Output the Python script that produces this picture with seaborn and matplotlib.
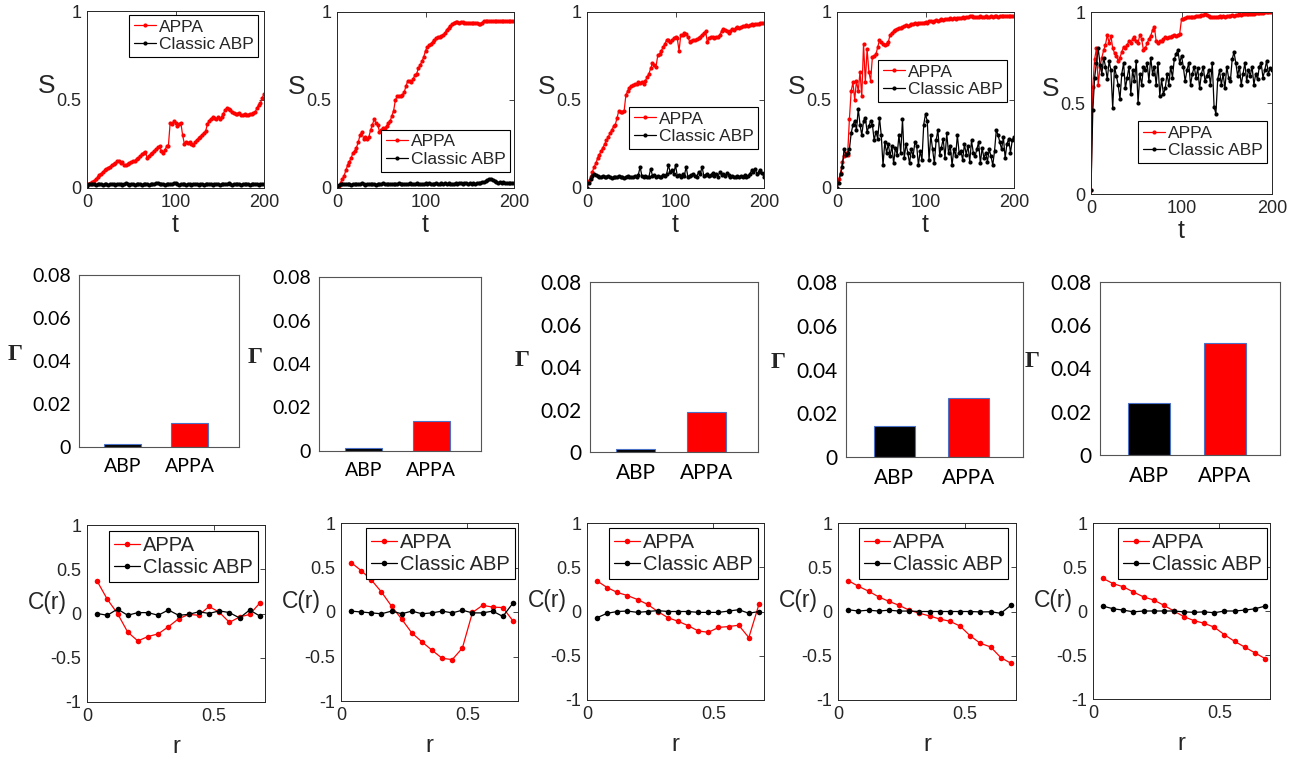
import matplotlib
matplotlib.use("Agg")
import matplotlib.pyplot as plt
import seaborn as sns
import pandas as pd

# ---------------- data ----------------
t = list(range(0, 201, 2))

s1_appa = [0.02,0.025,0.03,0.035,0.04,0.05,0.06,0.075,0.08,0.09,
           0.10,0.105,0.115,0.12,0.13,0.135,0.14,0.15,0.15,0.14,
           0.145,0.13,0.13,0.135,0.14,0.145,0.15,0.155,0.165,0.17,
           0.18,0.19,0.20,0.205,0.17,0.18,0.19,0.20,0.21,0.22,
           0.23,0.235,0.21,0.20,0.215,0.235,0.24,0.37,0.36,0.38,
           0.37,0.35,0.36,0.37,0.30,0.25,0.26,0.255,0.26,0.25,
           0.245,0.26,0.27,0.28,0.29,0.30,0.31,0.32,0.36,0.38,
           0.39,0.40,0.395,0.39,0.40,0.39,0.40,0.42,0.44,0.45,
           0.445,0.44,0.43,0.425,0.42,0.42,0.425,0.415,0.41,0.42,
           0.41,0.415,0.42,0.42,0.425,0.43,0.45,0.47,0.48,0.51,
           0.53]
s1_abp = [0.01,0.02,0.025,0.02,0.022,0.018,0.024,0.02,0.021,0.019,
          0.023,0.02,0.018,0.022,0.025,0.02,0.019,0.023,0.021,0.02,
          0.018,0.022,0.026,0.02,0.019,0.024,0.021,0.018,0.022,0.02,
          0.023,0.019,0.021,0.025,0.02,0.018,0.022,0.021,0.024,0.026,
          0.028,0.024,0.02,0.022,0.019,0.023,0.021,0.025,0.02,0.027,
          0.026,0.022,0.019,0.021,0.024,0.02,0.018,0.022,0.021,0.019,
          0.023,0.02,0.022,0.018,0.021,0.024,0.019,0.022,0.02,0.023,
          0.021,0.019,0.024,0.02,0.022,0.018,0.021,0.025,0.02,0.022,
          0.026,0.021,0.019,0.022,0.02,0.024,0.021,0.019,0.022,0.02,
          0.023,0.021,0.018,0.022,0.024,0.02,0.021,0.019,0.023,0.022,
          0.02]

s2_appa = [0.0,0.01,0.03,0.05,0.07,0.10,0.13,0.15,0.17,0.20,
           0.21,0.23,0.26,0.30,0.32,0.28,0.29,0.28,0.29,0.33,
           0.36,0.39,0.37,0.36,0.32,0.33,0.34,0.34,0.35,0.37,
           0.38,0.41,0.44,0.50,0.52,0.52,0.52,0.53,0.545,0.58,
           0.61,0.61,0.60,0.62,0.64,0.65,0.68,0.70,0.72,0.745,
           0.78,0.80,0.81,0.82,0.83,0.84,0.85,0.86,0.86,0.865,
           0.87,0.88,0.90,0.91,0.92,0.93,0.94,0.945,0.945,0.94,
           0.945,0.945,0.94,0.94,0.94,0.94,0.935,0.94,0.94,0.935,
           0.93,0.93,0.94,0.95,0.95,0.95,0.95,0.95,0.95,0.95,
           0.95,0.95,0.95,0.95,0.95,0.95,0.95,0.95,0.95,0.95,
           0.95]
s2_abp = [0.0,0.015,0.02,0.025,0.022,0.02,0.024,0.021,0.019,0.023,
          0.02,0.022,0.025,0.02,0.028,0.022,0.019,0.024,0.021,0.02,
          0.023,0.021,0.019,0.024,0.02,0.022,0.026,0.02,0.021,0.023,
          0.025,0.022,0.02,0.024,0.021,0.027,0.022,0.02,0.023,0.025,
          0.022,0.026,0.021,0.024,0.02,0.027,0.023,0.025,0.022,0.024,
          0.026,0.022,0.028,0.024,0.021,0.025,0.03,0.024,0.022,0.026,
          0.024,0.028,0.022,0.026,0.024,0.021,0.025,0.027,0.023,0.026,
          0.028,0.024,0.03,0.026,0.023,0.027,0.025,0.029,0.024,0.028,
          0.026,0.03,0.034,0.032,0.038,0.045,0.05,0.052,0.045,0.04,
          0.033,0.03,0.035,0.028,0.032,0.026,0.03,0.027,0.031,0.028,
          0.03]

s3_appa = [0.0,0.04,0.06,0.09,0.12,0.14,0.17,0.19,0.21,0.23,
           0.25,0.27,0.29,0.31,0.33,0.35,0.36,0.40,0.44,0.43,
           0.43,0.44,0.53,0.55,0.57,0.58,0.585,0.59,0.59,0.60,
           0.595,0.60,0.59,0.61,0.63,0.65,0.68,0.71,0.70,0.69,
           0.755,0.76,0.78,0.80,0.82,0.84,0.84,0.83,0.84,0.85,
           0.86,0.85,0.78,0.87,0.87,0.88,0.875,0.86,0.83,0.835,
           0.84,0.84,0.845,0.85,0.86,0.87,0.88,0.89,0.83,0.85,
           0.86,0.86,0.855,0.86,0.86,0.87,0.89,0.905,0.895,0.89,
           0.88,0.89,0.905,0.90,0.91,0.915,0.91,0.915,0.92,0.92,
           0.925,0.92,0.925,0.93,0.925,0.93,0.93,0.93,0.935,0.935,
           0.935]
s3_abp = [0.0,0.03,0.05,0.07,0.08,0.075,0.07,0.06,0.065,0.07,
          0.06,0.065,0.07,0.06,0.055,0.06,0.065,0.06,0.07,0.065,
          0.06,0.055,0.065,0.07,0.06,0.065,0.06,0.07,0.065,0.075,
          0.12,0.07,0.065,0.07,0.06,0.065,0.11,0.07,0.075,0.065,
          0.07,0.06,0.065,0.075,0.07,0.08,0.13,0.09,0.10,0.08,
          0.13,0.07,0.075,0.065,0.08,0.07,0.12,0.065,0.07,0.075,
          0.08,0.07,0.065,0.09,0.08,0.12,0.07,0.075,0.08,0.07,
          0.075,0.085,0.07,0.08,0.065,0.09,0.075,0.08,0.07,0.085,
          0.075,0.065,0.07,0.06,0.065,0.07,0.06,0.07,0.065,0.075,
          0.06,0.07,0.08,0.10,0.09,0.11,0.08,0.09,0.10,0.085,
          0.06]

s4_appa = [0.0,0.05,0.085,0.15,0.18,0.20,0.19,0.39,0.55,0.60,
           0.50,0.61,0.55,0.66,0.52,0.82,0.60,0.79,0.66,0.61,
           0.745,0.75,0.76,0.80,0.84,0.83,0.82,0.81,0.82,0.83,
           0.87,0.88,0.89,0.90,0.905,0.91,0.91,0.915,0.92,0.925,
           0.92,0.925,0.93,0.93,0.935,0.93,0.94,0.935,0.94,0.94,
           0.945,0.94,0.95,0.95,0.945,0.95,0.955,0.95,0.955,0.96,
           0.955,0.96,0.96,0.96,0.965,0.96,0.965,0.96,0.965,0.965,
           0.965,0.97,0.965,0.97,0.97,0.975,0.98,0.97,0.97,0.97,
           0.97,0.975,0.97,0.97,0.975,0.97,0.97,0.975,0.97,0.975,
           0.975,0.97,0.975,0.975,0.975,0.975,0.975,0.975,0.975,0.975,
           0.975]
s4_abp = [0.0,0.03,0.08,0.12,0.22,0.19,0.20,0.22,0.31,0.36,
          0.38,0.33,0.45,0.36,0.30,0.38,0.40,0.32,0.35,0.38,
          0.36,0.27,0.32,0.28,0.40,0.30,0.13,0.26,0.20,0.25,
          0.18,0.24,0.14,0.23,0.19,0.30,0.20,0.39,0.17,0.25,
          0.20,0.14,0.22,0.18,0.26,0.24,0.13,0.21,0.16,0.36,
          0.42,0.38,0.16,0.30,0.22,0.14,0.27,0.33,0.19,0.23,
          0.28,0.17,0.31,0.20,0.24,0.13,0.22,0.18,0.30,0.20,
          0.21,0.16,0.25,0.19,0.24,0.15,0.27,0.20,0.18,0.22,
          0.26,0.14,0.23,0.17,0.20,0.15,0.22,0.18,0.13,0.21,
          0.33,0.30,0.26,0.22,0.29,0.17,0.25,0.28,0.20,0.27,
          0.29]

s5_appa = [0.02,0.59,0.74,0.80,0.60,0.70,0.75,0.79,0.82,0.875,
           0.83,0.87,0.80,0.775,0.76,0.73,0.75,0.78,0.81,0.80,
           0.82,0.84,0.83,0.85,0.86,0.84,0.83,0.875,0.85,0.79,
           0.80,0.83,0.85,0.87,0.90,0.92,0.84,0.83,0.84,0.84,
           0.85,0.86,0.855,0.86,0.865,0.87,0.875,0.87,0.875,0.88,
           0.96,0.96,0.965,0.97,0.97,0.975,0.97,0.975,0.98,0.98,
           0.98,0.985,0.985,0.99,0.985,0.98,0.975,0.97,0.975,0.975,
           0.975,0.98,0.975,0.98,0.975,0.98,0.98,0.98,0.985,0.98,
           0.985,0.985,0.99,0.985,0.99,0.99,0.99,0.99,0.99,0.99,
           0.99,0.995,0.995,0.995,0.995,0.995,1.0,1.0,1.0,1.0,
           1.0]
s5_abp = [0.02,0.46,0.64,0.72,0.80,0.71,0.66,0.75,0.70,0.63,
          0.73,0.68,0.47,0.70,0.65,0.60,0.52,0.66,0.72,0.58,
          0.64,0.70,0.55,0.68,0.62,0.73,0.50,0.66,0.60,0.70,
          0.68,0.72,0.62,0.75,0.66,0.70,0.60,0.72,0.54,0.63,
          0.55,0.58,0.66,0.60,0.70,0.64,0.74,0.77,0.79,0.72,
          0.76,0.70,0.62,0.68,0.72,0.60,0.66,0.70,0.64,0.69,
          0.58,0.66,0.70,0.62,0.65,0.68,0.60,0.72,0.48,0.44,
          0.63,0.68,0.60,0.66,0.58,0.70,0.64,0.62,0.74,0.78,
          0.72,0.65,0.70,0.60,0.66,0.72,0.62,0.68,0.65,0.70,
          0.60,0.66,0.63,0.70,0.72,0.64,0.68,0.73,0.66,0.69,
          0.68]

gamma_cats = ["ABP", "APPA"]
gamma1 = [0.0015, 0.011]
gamma2 = [0.0012, 0.014]
gamma3 = [0.0015, 0.019]
gamma4 = [0.014, 0.027]
gamma5 = [0.024, 0.052]

r = [0.04,0.08,0.12,0.16,0.20,0.24,0.28,0.32,0.36,0.40,0.44,0.48,0.52,0.56,0.60,0.64,0.68]
c1_appa = [0.365,0.16,0.0,-0.21,-0.31,-0.26,-0.23,-0.15,-0.06,-0.01,-0.02,0.08,0.015,-0.10,-0.04,-0.01,0.12]
c1_abp = [0.0,-0.02,0.05,-0.02,0.01,0.01,-0.02,0.04,-0.02,-0.01,0.02,0.0,0.03,0.01,-0.05,0.04,-0.03]
c2_appa = [0.555,0.465,0.36,0.225,0.065,-0.08,-0.235,-0.335,-0.43,-0.52,-0.535,-0.405,-0.005,0.075,0.055,0.05,-0.10]
c2_abp = [0.01,0.0,-0.01,-0.02,0.01,-0.02,0.01,-0.02,-0.01,0.01,-0.01,0.02,-0.01,-0.01,0.01,-0.05,0.10]
c3_appa = [0.345,0.27,0.215,0.18,0.135,0.08,0.0,-0.07,-0.11,-0.16,-0.22,-0.235,-0.18,-0.17,-0.155,-0.295,0.08]
c3_abp = [-0.07,-0.02,0.0,0.005,-0.01,0.0,0.01,0.0,0.0,0.0,-0.01,-0.01,-0.01,0.005,0.02,-0.02,0.0]
c4_appa = [0.35,0.285,0.23,0.165,0.115,0.07,0.015,-0.02,-0.05,-0.085,-0.11,-0.165,-0.275,-0.36,-0.40,-0.52,-0.585]
c4_abp = [0.02,0.005,0.015,0.005,0.015,0.005,0.005,0.0,0.0,0.0,0.0,0.0,0.0,-0.005,-0.003,-0.02,0.07]
c5_appa = [0.37,0.31,0.275,0.215,0.16,0.125,0.065,0.0,-0.065,-0.11,-0.14,-0.185,-0.27,-0.345,-0.41,-0.475,-0.54]
c5_abp = [0.055,0.025,0.01,-0.01,0.0,0.0,0.0,0.0,-0.01,-0.015,-0.01,-0.02,0.0,0.0,0.01,0.025,0.055]

top_series = [(s1_appa, s1_abp), (s2_appa, s2_abp), (s3_appa, s3_abp), (s4_appa, s4_abp), (s5_appa, s5_abp)]
gammas = [gamma1, gamma2, gamma3, gamma4, gamma5]
bot_series = [(c1_appa, c1_abp), (c2_appa, c2_abp), (c3_appa, c3_abp), (c4_appa, c4_abp), (c5_appa, c5_abp)]

# ---------------- layout (pixel boxes: left, top, right, bottom) ----------------
W, H = 1296, 757
top_boxes = [(87, 11, 264, 188), (337, 12, 514, 188), (587, 12, 764, 188), (837, 12, 1014, 188), (1091, 12, 1272, 194)]
mid_boxes = [(79, 275, 239, 447), (319, 277, 481, 451), (590, 282, 758, 452), (846, 282, 1023, 457), (1100, 282, 1280, 455)]
mid_tick_fs = [14, 14, 15, 15, 15]
mid_gamma_dx = [-64, -64, -68, -68, -68]
bot_boxes = [(87, 525, 265, 702), (341, 523, 518, 701), (587, 523, 764, 700), (838, 523, 1016, 700), (1093, 523, 1270, 699)]
top_leg = [(0.966, 0.977), (0.977, 0.33), (0.966, 0.46), (0.96, 0.727), (0.972, 0.40)]
bot_leg = [(0.96, 0.966), (0.983, 0.97), (0.966, 0.97), (0.955, 0.97), (0.983, 0.97)]

sns.set_style("white")
plt.rcParams["font.family"] = ["Liberation Sans", "DejaVu Sans"]

RED = "#ff0000"
DARK = "#262626"

fig = plt.figure(figsize=(W / 100, H / 100), dpi=100)


def add_ax(box):
    l, tp, rt, b = box
    return fig.add_axes([l / W, 1 - b / H, (rt - l) / W, (b - tp) / H])


def matlab_style(ax):
    for sp in ax.spines.values():
        sp.set_visible(True)
        sp.set_color(DARK)
        sp.set_linewidth(0.7)
    ax.tick_params(direction="in", length=3.5, width=0.6, colors=DARK,
                   labelsize=13, top=True, right=True, labelcolor=DARK, pad=4)


def style_legend(ax, anchor, fs):
    leg = ax.legend(loc="upper right", bbox_to_anchor=anchor, fontsize=fs,
                    frameon=True, fancybox=False, framealpha=1,
                    edgecolor="black", handlelength=1.3, handletextpad=0.15,
                    borderpad=0.25, labelspacing=0.15, borderaxespad=0)
    leg.get_frame().set_linewidth(0.8)


# Top row: S(t)
for i, box in enumerate(top_boxes):
    ax = add_ax(box)
    appa, abp = top_series[i]
    df = pd.DataFrame({"t": t, "APPA": appa, "Classic ABP": abp})
    sns.lineplot(data=df, x="t", y="APPA", ax=ax, color=RED, marker="o", markersize=3,
                 markeredgewidth=0, linewidth=0.9, label="APPA")
    sns.lineplot(data=df, x="t", y="Classic ABP", ax=ax, color="black", marker="o", markersize=3,
                 markeredgewidth=0, linewidth=0.9, label="Classic ABP")
    ax.set_xlim(0, 200)
    ax.set_ylim(0, 1)
    ax.set_xticks([0, 100, 200])
    ax.set_yticks([0, 0.5, 1])
    ax.set_yticklabels(["0", "0.5", "1"])
    matlab_style(ax)
    ax.set_xlabel("t", fontsize=18, color=DARK, labelpad=2)
    ax.set_ylabel("S", fontsize=19, color=DARK, rotation=0, ha="center", va="center")
    ax.yaxis.set_label_coords(-40 / (box[2] - box[0]), 0.575)
    style_legend(ax, top_leg[i], 12.5)

# Middle row: Gamma bars
for i, box in enumerate(mid_boxes):
    ax = add_ax(box)
    df = pd.DataFrame({"model": gamma_cats, "gamma": gammas[i]})
    sns.barplot(data=df, x="model", y="gamma", hue="model", palette=["black", RED],
                saturation=1, legend=False, width=0.55, edgecolor="#4a72c8",
                linewidth=0.8, ax=ax)
    ax.set_xlim(-0.65, 1.73)
    ax.set_ylim(0, 0.08)
    ax.set_yticks([0, 0.02, 0.04, 0.06, 0.08])
    ax.set_yticklabels(["0", "0.02", "0.04", "0.06", "0.08"])
    for sp in ax.spines.values():
        sp.set_visible(True)
        sp.set_color("#555555")
        sp.set_linewidth(0.8)
    ax.tick_params(axis="y", direction="in", length=6, width=0.7, colors="#555555",
                   labelcolor="black", labelsize=mid_tick_fs[i], pad=6)
    ax.tick_params(axis="x", length=0, labelsize=mid_tick_fs[i], labelcolor="black", pad=8)
    for lab in ax.get_xticklabels() + ax.get_yticklabels():
        lab.set_family(["Lato", "DejaVu Sans"])
    ax.set_xlabel("")
    ax.set_ylabel("Γ", fontsize=17, fontweight="bold", family=["Liberation Serif", "DejaVu Serif"],
                  rotation=0, ha="center", va="center")
    ax.yaxis.set_label_coords(mid_gamma_dx[i] / (box[2] - box[0]), 0.54)

# Bottom row: C(r)
for i, box in enumerate(bot_boxes):
    ax = add_ax(box)
    appa, abp = bot_series[i]
    df = pd.DataFrame({"r": r, "APPA": appa, "Classic ABP": abp})
    sns.lineplot(data=df, x="r", y="APPA", ax=ax, color=RED, marker="o", markersize=4,
                 markeredgewidth=0, linewidth=0.9, label="APPA")
    sns.lineplot(data=df, x="r", y="Classic ABP", ax=ax, color="black", marker="o", markersize=4,
                 markeredgewidth=0, linewidth=0.9, label="Classic ABP")
    ax.set_xlim(0, 0.7)
    ax.set_ylim(-1, 1)
    ax.set_xticks([0, 0.5])
    ax.set_xticklabels(["0", "0.5"])
    ax.set_yticks([-1, -0.5, 0, 0.5, 1])
    ax.set_yticklabels(["-1", "-0.5", "0", "0.5", "1"])
    matlab_style(ax)
    ax.set_xlabel("r", fontsize=17, color=DARK, labelpad=8)
    ax.set_ylabel("C(r)", fontsize=16.5, color=DARK, rotation=0, ha="center", va="center")
    ax.yaxis.set_label_coords(-40 / (box[2] - box[0]), 0.56)
    style_legend(ax, bot_leg[i], 14.5)

fig.savefig("out.png", dpi=100)
